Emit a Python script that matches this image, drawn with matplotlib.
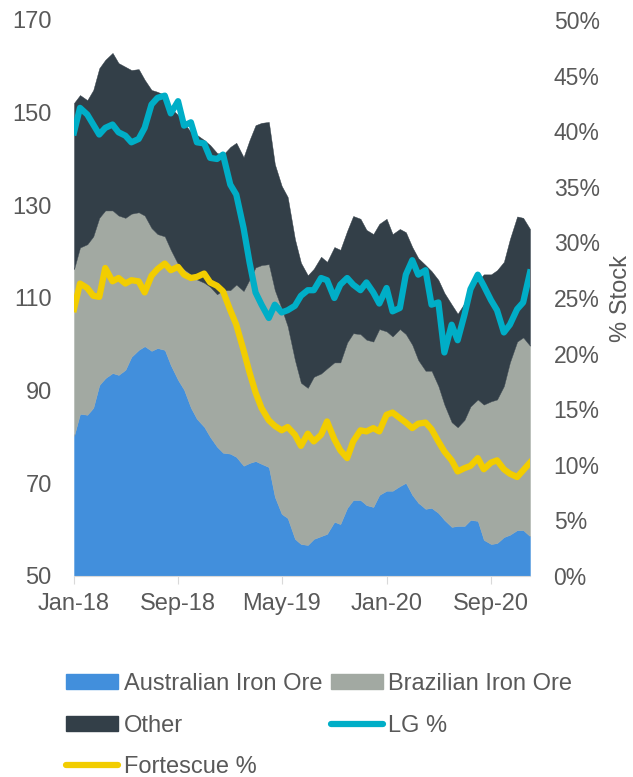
import numpy as np
import pandas as pd
import matplotlib
matplotlib.use("Agg")
import matplotlib.pyplot as plt
import matplotlib.dates as mdates
from matplotlib.patches import Patch
from matplotlib.lines import Line2D
from matplotlib.ticker import FuncFormatter

plt.rcParams['font.family'] = ['Liberation Sans', 'DejaVu Sans']

# semi-monthly observations, Jan-18 .. Dec-20
dates = pd.date_range("2018-01-01", periods=71, freq="SMS")

# port stocks (Mt), stacked
aus = [80.2, 85.0, 84.8, 86.3, 91.2, 92.7, 93.8, 93.4, 94.5, 97.3,
       98.8, 99.6, 98.6, 99.2, 98.8, 95.5, 92.3, 90.2, 86.3, 83.9,
       82.2, 80.0, 77.9, 76.6, 76.4, 75.7, 73.8, 74.4, 74.8, 74.2,
       73.5, 67.1, 63.4, 62.5, 58.0, 56.9, 56.7, 58.0, 58.6, 59.1,
       61.7, 61.2, 64.7, 66.4, 66.4, 65.3, 64.9, 67.5, 68.4, 68.4,
       69.4, 70.1, 67.5, 65.8, 64.5, 64.7, 63.6, 62.1, 60.6, 60.8,
       60.8, 62.1, 61.9, 57.8, 56.9, 57.1, 58.4, 58.9, 59.9, 59.9,
       58.6]
braz = [36.0, 35.9, 36.8, 37.0, 36.1, 36.2, 35.1, 34.4, 32.8, 30.9,
        29.7, 28.2, 26.5, 24.6, 24.5, 24.9, 25.0, 26.0, 28.8, 30.1,
        31.1, 32.4, 32.9, 35.1, 35.3, 37.2, 37.7, 39.6, 41.8, 42.9,
        43.8, 44.6, 44.3, 41.4, 38.6, 34.8, 33.9, 35.0, 35.1, 35.7,
        34.4, 34.9, 35.7, 36.0, 35.8, 35.7, 35.7, 35.8, 34.4, 33.3,
        33.9, 32.1, 32.4, 30.8, 29.8, 29.6, 27.4, 24.9, 22.6, 21.3,
        22.9, 24.5, 26.2, 29.2, 30.8, 31.0, 32.6, 37.2, 40.7, 41.6,
        41.1]
other = [35.9, 32.9, 31.1, 31.6, 32.3, 32.5, 34.0, 32.9, 32.6, 31.0,
         30.9, 29.3, 29.8, 30.7, 30.5, 30.6, 32.2, 31.6, 30.7, 31.2,
         30.8, 30.6, 30.5, 29.2, 30.9, 30.6, 28.9, 30.1, 30.7, 30.7,
         30.7, 27.2, 26.5, 27.9, 26.1, 25.9, 24.3, 23.3, 25.2, 23.0,
         24.9, 24.3, 24.1, 25.3, 24.9, 23.7, 23.2, 22.7, 24.3, 22.1,
         21.6, 22.0, 21.1, 22.0, 22.8, 21.5, 22.9, 24.1, 25.4, 24.5,
         25.2, 26.0, 25.6, 28.1, 27.4, 27.9, 26.8, 26.6, 27.0, 25.8,
         25.2]

# share of stock (%)
lg_pct = [39.9, 42.1, 41.5, 40.6, 39.7, 40.3, 40.6, 39.9, 39.6, 39.0,
          39.3, 40.3, 42.4, 43.0, 43.2, 41.6, 42.7, 40.5, 40.8, 39.0,
          38.9, 37.6, 37.5, 37.9, 35.2, 34.3, 31.3, 28.2, 25.5, 24.4,
          23.2, 24.4, 23.7, 23.9, 24.3, 25.2, 25.7, 25.7, 26.8, 26.6,
          25.0, 26.2, 26.8, 26.2, 25.7, 26.4, 25.5, 24.5, 25.9, 23.8,
          24.1, 27.1, 28.4, 27.1, 27.5, 24.4, 24.6, 20.1, 22.6, 21.2,
          23.5, 25.8, 27.1, 26.1, 24.8, 23.9, 21.9, 22.6, 24.0, 24.6,
          27.3]
fmg_pct = [24.0, 26.3, 25.9, 25.2, 25.1, 27.7, 26.5, 26.8, 26.3, 26.6,
           26.5, 25.5, 27.0, 27.6, 28.1, 27.5, 27.8, 27.1, 26.8, 26.9,
           27.2, 26.4, 26.1, 25.6, 23.9, 22.6, 20.3, 18.3, 16.5, 15.1,
           14.0, 13.5, 13.1, 13.4, 12.7, 11.7, 12.8, 12.1, 12.7, 13.9,
           12.3, 11.3, 10.6, 12.1, 13.1, 13.0, 13.3, 13.0, 14.5, 14.7,
           14.2, 13.8, 13.3, 13.7, 13.8, 13.2, 12.1, 11.2, 10.4, 9.4,
           9.7, 9.9, 10.6, 9.6, 10.2, 10.4, 9.6, 9.2, 8.9, 9.5,
           10.2]

tick_dates = pd.to_datetime(["2018-01-01", "2018-09-01", "2019-05-01",
                             "2020-01-01", "2020-09-01"])

c_aus = "#428FDC"
c_braz = "#A2A9A2"
c_other = "#333F48"
c_lg = "#00AEC7"
c_fmg = "#F2CD00"
txt = "#595959"
fs = 17

fig = plt.figure(figsize=(6.33, 7.77), dpi=100)
ax = fig.add_axes([74/633, 1-576/777, 456/633, 556/777])

ax.stackplot(dates, aus, braz, other, colors=[c_aus, c_braz, c_other],
             edgecolor="face", linewidth=0.3)
ax.set_ylim(50, 170)
ax.set_yticks(range(50, 171, 20))
ax.set_xlim(dates[0], dates[-1])
ax.set_xticks(tick_dates)
ax.xaxis.set_major_formatter(mdates.DateFormatter("%b-%y"))
for s in ["top", "right", "left"]:
    ax.spines[s].set_visible(False)
ax.spines["bottom"].set_color("#D9D9D9")
ax.tick_params(axis="y", length=0, pad=16, labelsize=fs, labelcolor=txt)
ax.tick_params(axis="x", length=6, color="#D9D9D9", pad=6,
               labelsize=fs, labelcolor=txt)

ax2 = ax.twinx()
ax2.plot(dates, lg_pct, color=c_lg, lw=4.5, solid_joinstyle="round")
ax2.plot(dates, fmg_pct, color=c_fmg, lw=4.5, solid_joinstyle="round")
ax2.set_ylim(0, 50)
ax2.set_yticks(range(0, 51, 5))
ax2.yaxis.set_major_formatter(FuncFormatter(lambda v, p: f"{v:.0f}%"))
for s in ax2.spines.values():
    s.set_visible(False)
ax2.tick_params(axis="y", length=0, pad=17, labelsize=fs - 0.5,
                labelcolor=txt)
fig.text(621/633, 1-298/777, "% Stock", rotation=90, ha="center",
         va="center", fontsize=fs, color=txt)

handles = [Patch(color=c_aus), Patch(color=c_other),
           Line2D([], [], color=c_fmg, lw=4.5, solid_capstyle="round"),
           Patch(color=c_braz),
           Line2D([], [], color=c_lg, lw=4.5, solid_capstyle="round")]
labels = ["Australian Iron Ore", "Other", "Fortescue %",
          "Brazilian Iron Ore", "LG %"]
fig.legend(handles, labels, ncol=2, loc="upper left",
           bbox_to_anchor=(66/633, 1-673/777), frameon=False,
           fontsize=fs, labelcolor=txt, handlelength=2.2,
           handleheight=0.6, handletextpad=0.25, columnspacing=0.35,
           labelspacing=0.83, borderpad=0, borderaxespad=0)

fig.savefig("out.png", dpi=100)
